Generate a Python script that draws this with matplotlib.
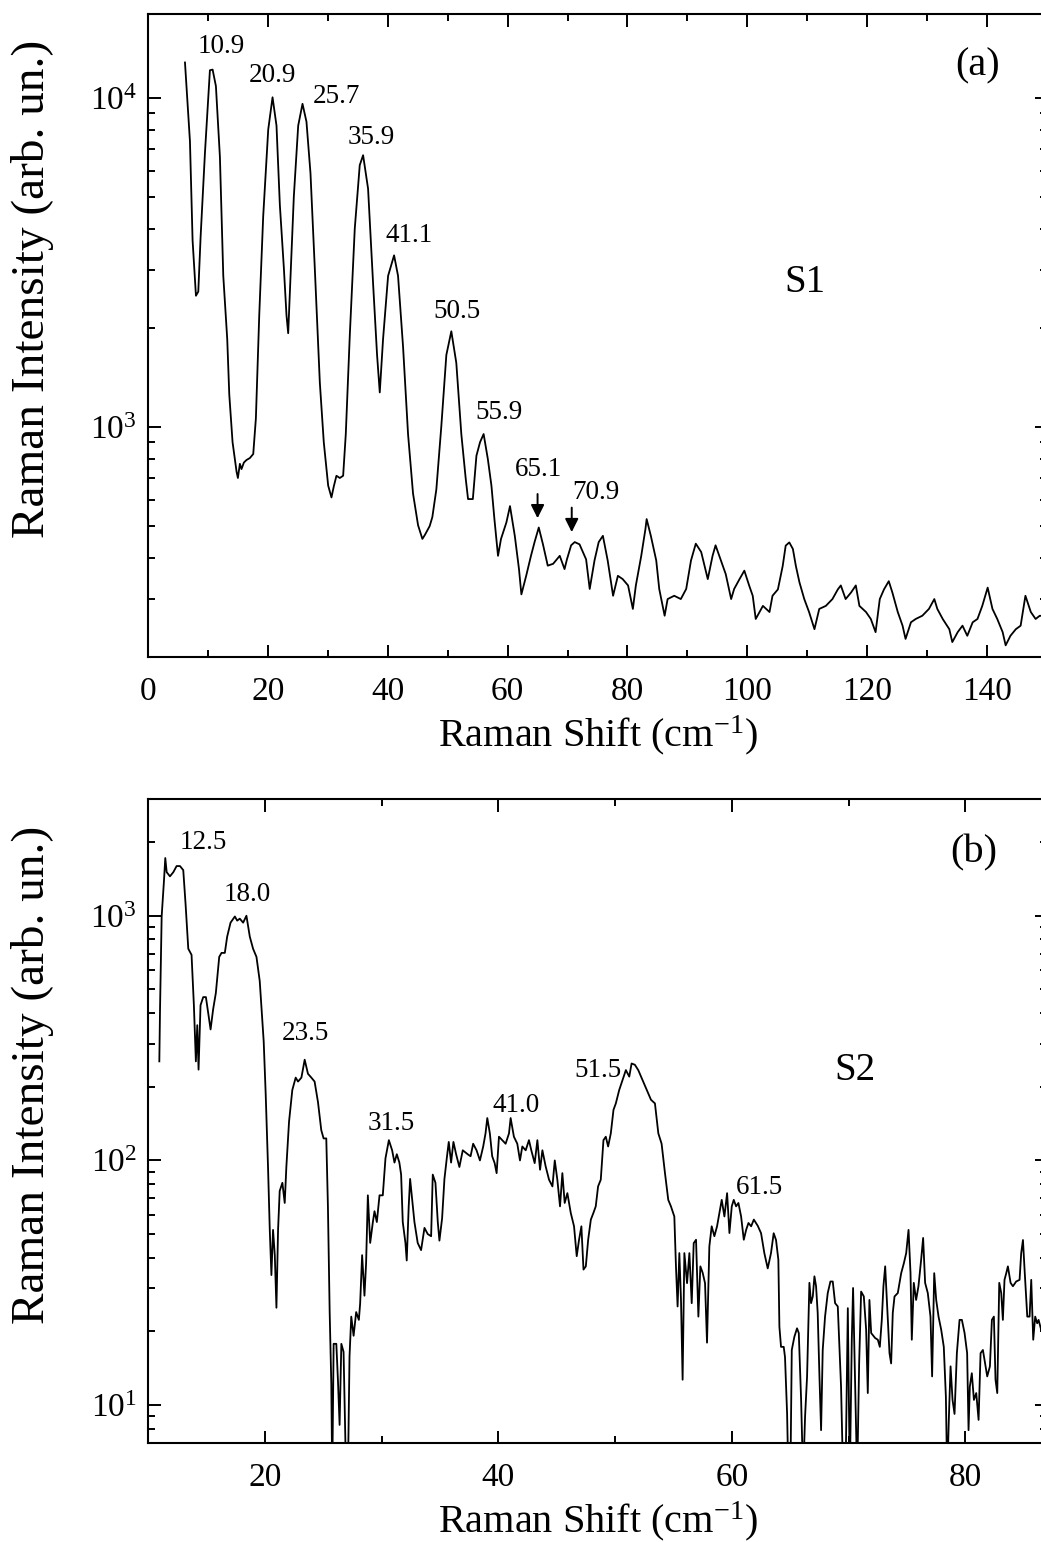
import matplotlib
matplotlib.use('Agg')
import matplotlib.pyplot as plt
from matplotlib.ticker import MultipleLocator, LogLocator, NullFormatter

plt.rcParams['font.family'] = ['Liberation Serif', 'DejaVu Serif']
plt.rcParams['mathtext.fontset'] = 'custom'
plt.rcParams['mathtext.rm'] = 'Liberation Serif'
plt.rcParams['mathtext.it'] = 'Liberation Serif:italic'
plt.rcParams['mathtext.bf'] = 'Liberation Serif:bold'

# ---------------- data: panel (a) S1 ----------------
shift_a = [6.17, 7.0, 7.44, 8.0, 8.39, 8.78, 9.5, 10.33, 10.78, 11.33, 12.0, 12.56, 13.22, 13.56,
           14.11, 14.78, 15.0, 15.33, 15.6, 16.0, 16.44, 17.0, 17.56, 18.0, 18.56, 19.22, 20.06,
           20.78, 21.44, 22.0, 22.67, 23.11, 23.39, 23.78, 24.33, 25.06, 25.78, 26.44, 27.11,
           27.83, 28.67, 29.33, 30.06, 30.3, 30.61, 31.0, 31.44, 32.0, 32.56, 33.0, 33.67, 34.5,
           35.33, 35.89, 36.72, 37.56, 38.22, 38.67, 39.22, 40.06, 41.06, 41.72, 42.56, 43.39,
           44.22, 45.06, 45.78, 46.2, 46.56, 47.0, 47.44, 48.11, 48.94, 49.78, 50.61, 51.44,
           52.28, 53.0, 53.4, 54.2, 54.8, 55.4, 56.0, 56.7, 57.3, 57.8, 58.4, 58.9, 59.8, 60.4,
           61.2, 61.9, 62.3, 63.1, 63.9, 64.5, 65.2, 65.9, 66.7, 67.6, 68.7, 69.5, 69.9, 70.6,
           71.2, 72.0, 73.1, 73.7, 74.5, 75.2, 75.9, 76.7, 77.6, 78.4, 79.2, 80.1, 80.9, 81.4,
           82.3, 83.0, 83.2, 83.9, 84.8, 85.3, 86.2, 86.7, 87.8, 88.9, 89.8, 90.6, 91.4, 92.3,
           93.4, 94.2, 94.7, 95.6, 96.4, 97.3, 97.8, 98.7, 99.5, 100.3, 100.9, 101.4, 102.6,
           103.7, 104.2, 105.1, 105.9, 106.4, 107.0, 107.6, 108.1, 108.7, 109.5, 110.3, 111.2,
           112.0, 113.1, 114.2, 115.1, 115.6, 116.4, 117.3, 118.1, 118.7, 119.8, 120.6, 121.4,
           122.1, 122.8, 123.6, 124.2, 125.1, 125.9, 126.4, 127.3, 128.1, 129.2, 130.3, 131.2,
           131.7, 132.6, 133.7, 134.2, 135.1, 135.9, 136.7, 137.6, 138.4, 139.2, 140.1, 140.9,
           141.7, 142.6, 143.1, 143.9, 144.8, 145.6, 146.4, 147.3, 148.1, 148.8, 150.0]
intensity_a = [12820, 7380, 3690, 2506, 2580, 3790, 6800, 12140, 12200, 10870, 6610, 2880, 1850, 1256,
               899, 731, 700, 773, 745, 780, 794, 805, 828, 1062, 2183, 4365, 8017,
               10050, 8240, 4730, 3040, 2183, 1928, 2880, 5010, 8240, 9600, 8470, 5910,
               3040, 1365, 899, 664, 640, 611, 660, 711, 700, 711, 951, 1900, 4010,
               6250, 6700, 5300, 2720, 1656, 1274, 1850, 2880, 3325, 2880, 1750, 951,
               628, 503, 457, 470, 483, 500, 532, 646, 1005, 1656, 1954, 1567,
               951, 700, 604, 604, 818, 899, 952, 800, 664, 525, 406, 457, 513, 575,
               467, 370, 310, 353, 406, 447, 495, 440, 379, 384, 406, 370, 396, 437,
               447, 440, 396, 322, 393, 447, 467, 393, 307, 353, 345, 330, 280, 330,
               406, 490, 525, 467, 393, 322, 267, 300, 307, 300, 322, 393, 442, 417,
               345, 406, 437, 393, 357, 300, 322, 345, 366, 330, 307, 261, 286,
               274, 307, 321, 378, 436, 446, 426, 378, 337, 300, 274, 243,
               280, 286, 300, 321, 330, 300, 314, 330, 286, 274, 261, 238,
               300, 321, 340, 314, 274, 249, 227, 255, 261, 267, 280, 300,
               280, 261, 243, 222, 238, 249, 232, 255, 261, 286, 325, 280,
               261, 238, 217, 232, 243, 249, 307, 274, 261, 267, 265]

# ---------------- data: panel (b) S2 ----------------
shift_b = [10.97, 11.03, 11.17, 11.37, 11.48, 11.6, 11.88, 12.17, 12.45, 12.74, 13.02, 13.22, 13.45,
           13.73, 13.93, 14.1, 14.22, 14.33, 14.5, 14.73, 14.96, 15.16, 15.36, 15.58, 15.81, 16.1,
           16.3, 16.58, 16.78, 17.07, 17.44, 17.64, 17.86, 18.15, 18.43, 18.72, 19.0, 19.29, 19.57,
           19.91, 20.08, 20.28, 20.43, 20.57, 20.71, 20.86, 21.0, 21.14, 21.28, 21.51, 21.71, 21.85,
           22.08, 22.36, 22.65, 22.85, 23.14, 23.42, 23.7, 23.99, 24.27, 24.56, 24.84, 25.04, 25.27,
           25.41, 25.56, 25.7, 25.78, 25.9, 26.13, 26.27, 26.41, 26.56, 26.75, 26.92, 27.12, 27.26,
           27.41, 27.61, 27.83, 28.06, 28.17, 28.34, 28.54, 28.68, 28.83, 29.03, 29.26, 29.4, 29.6,
           29.83, 30.11, 30.34, 30.63, 30.91, 31.11, 31.31, 31.53, 31.68, 31.82, 32.05, 32.16, 32.33,
           32.45, 32.62, 32.82, 33.1, 33.39, 33.68, 33.96, 34.25, 34.39, 34.62, 34.82, 34.96, 35.19,
           35.39, 35.59, 35.76, 35.96, 36.16, 36.39, 36.67, 36.96, 37.38, 37.63, 37.85, 38.14, 38.43,
           38.71, 38.91, 39.06, 39.28, 39.48, 39.69, 39.86, 40.06, 40.34, 40.63, 40.92, 41.06, 41.34,
           41.63, 41.86, 42.06, 42.35, 42.63, 42.83, 43.12, 43.35, 43.58, 43.78, 44.06, 44.35, 44.64,
           44.84, 45.06, 45.29, 45.49, 45.69, 45.92, 46.21, 46.49, 46.72, 46.92, 47.12, 47.3, 47.5,
           47.7, 47.93, 48.15, 48.35, 48.55, 48.78, 49.01, 49.21, 49.41, 49.64, 49.87, 50.07, 50.36,
           50.64, 50.93, 51.22, 51.42, 51.7, 51.99, 52.36, 52.73, 53.08, 53.42, 53.71, 53.99, 54.28,
           54.56, 54.79, 55.08, 55.22, 55.36, 55.51, 55.65, 55.79, 55.94, 56.17, 56.37, 56.57, 56.74,
           56.94, 57.14, 57.31, 57.51, 57.71, 57.88, 58.08, 58.28, 58.51, 58.74, 58.94, 59.14, 59.37,
           59.6, 59.8, 60.0, 60.17, 60.37, 60.57, 60.8, 61.03, 61.23, 61.43, 61.66, 61.89, 62.23,
           62.51, 62.79, 63.08, 63.36, 63.59, 63.79, 63.99, 64.08, 64.22, 64.45, 64.56, 64.74, 64.85,
           65.02, 65.14, 65.36, 65.59, 65.74, 65.94, 66.11, 66.28, 66.45, 66.65, 66.79, 66.94, 67.08,
           67.22, 67.36, 67.51, 67.65, 67.79, 67.99, 68.22, 68.45, 68.65, 68.85, 69.08, 69.22, 69.36,
           69.54, 69.74, 69.94, 70.11, 70.28, 70.39, 70.56, 70.74, 70.91, 71.08, 71.31, 71.51, 71.65,
           71.79, 71.94, 72.28, 72.51, 72.68, 72.85, 72.99, 73.14, 73.31, 73.51, 73.65, 73.79, 73.94,
           74.22, 74.51, 74.74, 74.94, 75.14, 75.31, 75.42, 75.59, 75.79, 75.99, 76.22, 76.39, 76.56,
           76.79, 77.02, 77.16, 77.34, 77.51, 77.71, 77.94, 78.16, 78.34, 78.45, 78.59, 78.74, 78.91,
           79.08, 79.28, 79.51, 79.71, 79.94, 80.16, 80.28, 80.39, 80.56, 80.74, 80.94, 81.14, 81.31,
           81.51, 81.88, 82.11, 82.28, 82.45, 82.59, 82.74, 82.91, 83.08, 83.22, 83.36, 83.51, 83.65,
           83.88, 84.08, 84.36, 84.65, 84.79, 84.94, 85.08, 85.31, 85.51, 85.65, 85.82, 85.99, 86.16,
           86.28, 86.5, 87.0]
intensity_b = [254, 415, 993, 1396, 1722, 1507, 1449, 1507, 1596, 1596, 1536, 1112, 733,
               692, 431, 254, 357, 235, 431, 465, 465, 399, 343, 415, 483, 679,
               705, 705, 821, 937, 993, 955, 973, 937, 1000, 821, 733, 679, 541,
               306, 187, 94, 52, 34, 52, 41, 25, 52, 75, 81, 67, 94,
               144, 194, 218, 210, 218, 258, 226, 218, 210, 173, 133, 123, 123,
               65, 24, 12.2, 5, 17.8, 17.8, 12.6, 8.3, 17.8, 16.5, 6.6, 5, 15.8,
               23, 19.2, 24, 22.3, 26, 41, 28, 38, 72, 46, 56, 62, 56,
               72, 72, 102, 121, 110, 98, 106, 98, 87.5, 56, 46, 39, 65,
               84, 70, 56, 46, 43, 53, 50, 49, 87.5, 81, 56, 47, 58,
               84, 102, 119, 98, 119, 106, 94, 110, 106, 104, 117, 110, 100,
               114, 129, 149, 129, 104, 97.5, 88.7, 125, 121, 117, 129, 149, 125,
               117, 100, 114, 110, 121, 110, 97.5, 121, 91.6, 110, 94.5, 83.4, 78.3,
               100, 83.4, 64.9, 88.7, 67, 73.5, 61, 53.8, 40.6, 47.4, 53.8, 35.8, 36.9,
               47.4, 57.3, 61, 64.9, 78.3, 83.4, 121, 125, 114, 129, 161, 171, 194,
               213, 234, 220, 249, 246, 234, 213, 194, 177, 171, 129, 117, 88.7,
               69, 64.9, 59, 36.9, 25.3, 41.8, 27, 12.7, 41.8, 31.5, 41.8, 26.1, 45.9,
               47.4, 23, 36.9, 34.7, 31.5, 18, 44.5, 53.8, 49, 53.8, 61, 69, 59,
               73.5, 50.5, 64.9, 69, 64.9, 67, 59, 47.4, 52, 55.5, 53.8, 57.3, 54,
               50.4, 41.8, 36.2, 41.8, 50.4, 47.3, 39.3, 20.9, 17.3, 17.3, 15.7, 9.2, 5,
               5, 16.8, 19, 20.6, 19.7, 10.5, 5, 9, 13.1, 31.6, 26.1, 27.8, 33.6,
               30.6, 23.8, 13.1, 7.9, 16.8, 23, 28.7, 32, 32, 26.1, 25.3, 17.3, 11.9,
               5, 5, 24.9, 5, 18.5, 30.1, 12.7, 5, 14.8, 29.1, 27.8, 20.3, 11.2,
               26.9, 19.7, 18.8, 18.5, 17.3, 22.3, 30.6, 36.9, 25.3, 16.3, 14.8, 23.8, 27.8,
               28.7, 34.6, 38, 41.8, 52, 34.6, 18.5, 31.6, 26.9, 30.6, 39.3, 48.2, 31.6,
               28.7, 23, 13.1, 34.6, 26.9, 23, 20.3, 17.3, 10.8, 5, 8.7, 14.4, 10.5,
               9.2, 16.3, 22.3, 22.3, 19.7, 16.3, 7.9, 11.9, 13.5, 10.5, 11.2, 8.7, 16.3,
               16.8, 13.1, 14.4, 22.3, 23, 12.7, 11.2, 31.6, 28.7, 22.3, 32.5, 34.6, 36.9,
               31.6, 30.6, 32, 32.5, 41.8, 47.3, 35.7, 23, 23, 32.5, 18.5, 23, 21.6,
               22.3, 20.3, 22]

# peak labels
labels_a = ['10.9', '20.9', '25.7', '35.9', '41.1', '50.5', '55.9', '65.1', '70.9']
label_pos_a = [(12.2, 14290), (20.7, 11670), (31.5, 10070), (37.2, 7610), (43.5, 3810),
               (51.5, 2240), (58.5, 1110), (65.2, 745), (74.8, 634)]
arrows_a = [(65.0, 638, 518), (70.7, 580, 470)]
labels_b = ['12.5', '18.0', '23.5', '31.5', '41.0', '51.5', '61.5']
label_pos_b = [(14.7, 1990), (18.5, 1219), (23.5, 329), (30.8, 142), (41.5, 167),
               (48.5, 232), (62.4, 77.3)]

W, H = 1041, 1542
fig = plt.figure(figsize=(W / 100, H / 100), dpi=100)


def rect(l, r, t, b):
    return [l / W, 1 - b / H, (r - l) / W, (b - t) / H]


axA = fig.add_axes(rect(148, 1047, 14, 657))
axB = fig.add_axes(rect(148, 1047, 799, 1443))

axA.plot(shift_a, intensity_a, color='black', lw=1.3)
axB.plot(shift_b, intensity_b, color='black', lw=1.3)

for ax in (axA, axB):
    ax.set_yscale('log')
    ax.yaxis.set_major_locator(LogLocator(base=10))
    ax.yaxis.set_minor_locator(LogLocator(base=10, subs=range(2, 10)))
    ax.yaxis.set_minor_formatter(NullFormatter())
    ax.xaxis.set_major_locator(MultipleLocator(20))
    ax.xaxis.set_minor_locator(MultipleLocator(10))
    ax.tick_params(which='both', direction='in', top=True, right=True, width=1.4,
                   labelsize=24)
    ax.tick_params(axis='x', which='both', pad=14)
    ax.tick_params(axis='y', which='both', pad=8)
    ax.tick_params(which='major', length=9)
    ax.tick_params(which='minor', length=5)
    for s in ax.spines.values():
        s.set_linewidth(1.5)
    ax.set_xlabel('Raman Shift (cm$^{-1}$)', fontsize=29, va='center')
    ax.set_ylabel('Raman Intensity (arb. un.)', fontsize=34, va='center')
    ax.xaxis.set_label_coords(0.5, -0.122)
    ax.yaxis.set_label_coords(-0.128, 0.572)

axA.set_xlim(0, 150)
axA.set_ylim(200, 18000)
axB.set_xlim(10, 87)
axB.set_ylim(7, 3000)

for s, (x, y) in zip(labels_a, label_pos_a):
    axA.text(x, y, s, ha='center', va='center', fontsize=19.5)
for x, y0, y1 in arrows_a:
    axA.annotate('', xy=(x, y1), xytext=(x, y0),
                 arrowprops=dict(arrowstyle='-|>', color='black', lw=1.4, mutation_scale=20))
for s, (x, y) in zip(labels_b, label_pos_b):
    axB.text(x, y, s, ha='center', va='center', fontsize=19.5)

fig.text(978 / W, 1 - 66 / H, '(a)', ha='center', va='center', fontsize=29)
fig.text(805 / W, 1 - 283 / H, 'S1', ha='center', va='center', fontsize=28)
fig.text(974 / W, 1 - 853 / H, '(b)', ha='center', va='center', fontsize=29)
fig.text(855 / W, 1 - 1071 / H, 'S2', ha='center', va='center', fontsize=28)

fig.savefig('out.png', dpi=100)
